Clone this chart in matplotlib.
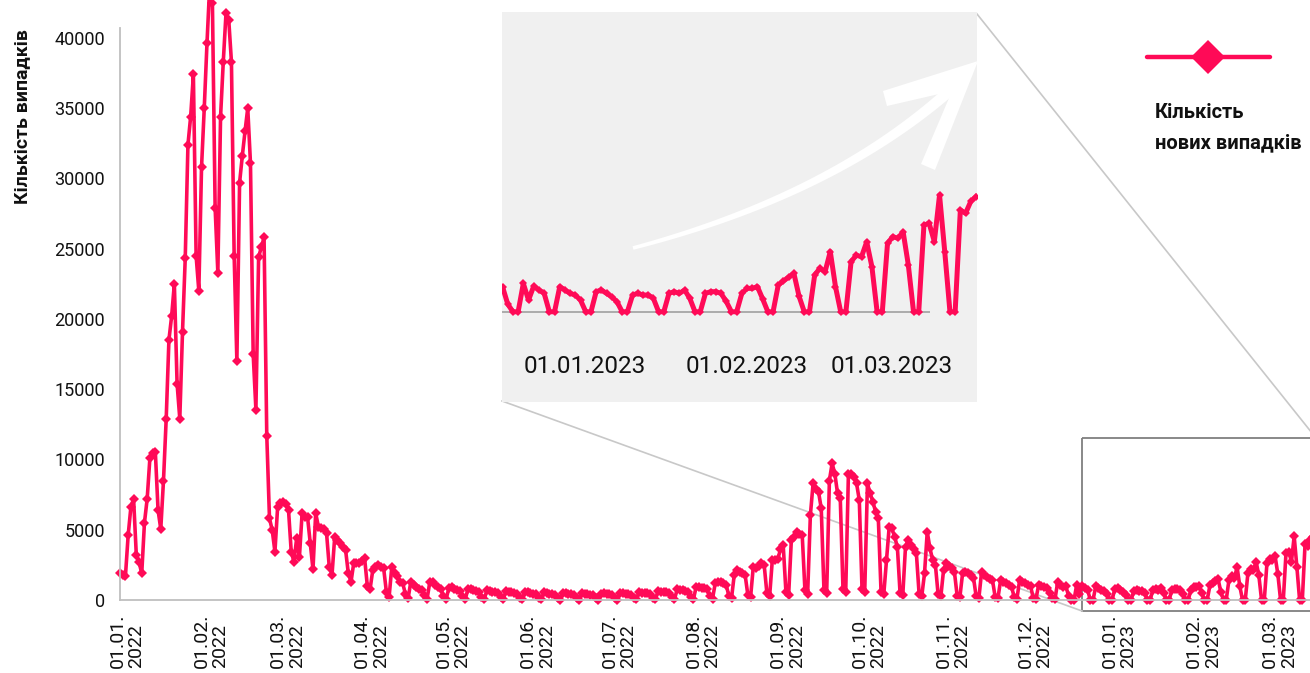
import matplotlib
matplotlib.use('Agg')
import matplotlib.pyplot as plt
import matplotlib.transforms as mtransforms
from matplotlib.patches import Rectangle, Polygon
import numpy as np
import pandas as pd

plt.rcParams['font.family'] = ['Roboto', 'DejaVu Sans']

# daily new cases, one row per week (Sat ... Fri), starting 01.01.2022
cases_q1_2022 = [
    1900, 1800, 1700, 4600, 6600, 7200, 3200,
    2700, 1900, 5500, 7200, 10100, 10450, 10550,
    6400, 5050, 8500, 12900, 18500, 20200, 22500,
    15400, 12900, 19100, 24300, 32400, 34400, 37400,
    24500, 22000, 30800, 35000, 39600, 43700, 42500,
    27900, 23300, 34400, 38300, 41750, 41300, 38300,
    24500, 17000, 29700, 31600, 33350, 35000, 31100,
    17500, 13550, 24400, 25100, 25800, 11700, 5800,
    4980, 3430, 6630, 6900, 7000, 6800, 6400,
    3430, 2720, 4400, 3030, 6160, 5900, 5900,
    4050, 2180, 6180, 5210, 5100, 5030, 4740,
    2350, 1780, 4500, 4300, 4030, 3800, 3550,
    1900, 1300, 2630, 2650, 2610, 2800, 2960,
]
cases_q2_2022 = [
    1000, 760, 2130, 2370, 2490, 2370, 2250,
    600, 200, 2370, 1900, 1700, 1300, 1185,
    450, 120, 1300, 1100, 950, 800, 700,
    350, 100, 1300, 1250, 1050, 900, 800,
    300, 80, 850, 900, 800, 700, 650,
    250, 60, 750, 800, 700, 650, 550,
    200, 50, 700, 650, 600, 550, 500,
    180, 50, 650, 600, 550, 500, 450,
    150, 40, 600, 550, 500, 450, 400,
    150, 40, 550, 500, 450, 420, 380,
    140, 30, 500, 480, 450, 400, 350,
    130, 30, 480, 450, 420, 380, 350,
    120, 30, 460, 470, 430, 400, 360,
]
cases_q3_2022 = [
    130, 30, 500, 480, 450, 420, 380,
    140, 40, 550, 520, 500, 480, 420,
    150, 50, 650, 600, 580, 550, 500,
    180, 60, 750, 700, 680, 650, 600,
    200, 80, 950, 900, 850, 820, 750,
    250, 100, 1185, 1250, 1300, 1200, 1100,
    300, 150, 1800, 2130, 2000, 1900, 1780,
    350, 200, 2370, 2250, 2400, 2600, 2490,
    500, 250, 2840, 2840, 2900, 3600, 3910,
    600, 350, 4270, 4500, 4860, 4700, 4620,
    700, 450, 6040, 8290, 7900, 7700, 6520,
    710, 500, 8500, 9720, 9000, 7580, 7230,
    800, 550, 9000, 9000, 8770, 8290, 7110,
]
cases_q4_2022 = [
    800, 600, 8290, 7580, 6990, 6280, 5800,
    600, 400, 2840, 5210, 5090, 4500, 3800,
    500, 350, 3790, 4270, 3910, 3600, 3320,
    450, 300, 1900, 4860, 3670, 2840, 2490,
    400, 250, 2130, 2600, 2400, 2250, 2000,
    300, 200, 1900, 2010, 1900, 1780, 1600,
    250, 150, 2010, 1800, 1660, 1500, 1420,
    200, 120, 1420, 1300, 1185, 1050, 950,
    200, 100, 1420, 1300, 1185, 1100, 1000,
    150, 80, 1070, 1000, 900, 830, 470,
    150, 50, 1300, 1100, 950, 975, 300,
    0, 0, 1100, 455, 1000, 845, 720,
    0, 0, 975, 845, 715, 650, 450,
]
cases_2023 = [
    0, 0, 780, 845, 715, 585, 390,
    0, 0, 650, 715, 650, 650, 520,
    0, 0, 715, 780, 715, 845, 520,
    0, 0, 715, 780, 780, 715, 400,
    0, 0, 715, 910, 910, 975, 500,
    0, 0, 1040, 1200, 1350, 1495, 600,
    0, 0, 1430, 1690, 1560, 2340, 975,
    0, 0, 1950, 2200, 2140, 2720, 1750,
    0, 0, 2660, 2920, 2860, 3110, 1820,
    0, 0, 3370, 3440, 2730, 4540, 2340,
    0, 0, 3960, 3830, 4290, 4480,
]

new_cases = cases_q1_2022 + cases_q2_2022 + cases_q3_2022 + cases_q4_2022 + cases_2023
start = pd.Timestamp('2022-01-01')
days = np.arange(len(new_cases))

month_starts = pd.date_range('2022-01-01', '2023-03-01', freq='MS')
tick_days = (month_starts - start).days
tick_labels = [d.strftime('%d.%m.\n%Y') for d in month_starts]
y_ticks = list(range(0, 40001, 5000))
inset_months = pd.to_datetime(['2023-01-01', '2023-02-01', '2023-03-01'])

PINK = '#FF0A57'
W, H = 1310, 673


def fx(px):
    return px / W


def fy(py):
    return 1 - py / H


fig = plt.figure(figsize=(W / 100, H / 100), dpi=100)

# layer under the chart: zoom frame and connector lines (pixel coords)
under = fig.add_axes([0, 0, 1, 1], zorder=0)
under.set_xlim(0, W)
under.set_ylim(H, 0)
under.axis('off')
under.add_patch(Rectangle((1082, 438), 260, 173, fill=False, edgecolor='#7F7F7F', lw=1.3))
under.plot([502, 1082], [401, 611], color='#C8C8C8', lw=1.2)
under.plot([977, 1316], [14, 438], color='#C8C8C8', lw=1.2)

# main chart
ax = fig.add_axes([fx(120), fy(600), fx(1310) - fx(120), fy(28) - fy(600)], zorder=1)
ax.patch.set_alpha(0)
ax.plot(days, new_cases, color=PINK, lw=2.6, marker='D', ms=4.8, mew=0, clip_on=False)
ax.set_xlim(0, (1310 - 120) / 2.718)
ax.set_ylim(0, 40700)
ax.set_yticks(y_ticks)
ax.set_yticklabels([str(v) for v in y_ticks], fontsize=13, color='#111111')
ax.set_xticks(tick_days)
ax.set_xticklabels(tick_labels, rotation=90, ha='center', va='top', multialignment='left',
                   fontsize=14, color='#111111', linespacing=1.05)
ax.tick_params(axis='both', length=0)
ax.tick_params(axis='y', pad=11)
ax.tick_params(axis='x', pad=10)
shift = mtransforms.ScaledTranslation(0.07, 0, fig.dpi_scale_trans)
for lab in ax.get_xticklabels():
    lab.set_transform(lab.get_transform() + shift)
for side in ['top', 'right']:
    ax.spines[side].set_visible(False)
for side in ['left', 'bottom']:
    ax.spines[side].set_color('#BFBFBF')
    ax.spines[side].set_linewidth(1.3)

fig.text(fx(22), fy(117), 'Кількість випадків', rotation=90, ha='center', va='center',
         fontsize=14, fontweight='bold', color='#111111')

# zoomed inset
ax_in = fig.add_axes([fx(502), fy(402), fx(977) - fx(502), fy(12) - fy(402)], zorder=2)
ax_in.set_facecolor('#F0F0F0')
ax_in.set_xlim(347.9, 439.2)
ax_in.set_ylim(-3510, 11660)
ax_in.hlines(0, 347.9, 430.2, color='#A6A6A6', lw=1.3, zorder=1)
ax_in.plot(days, new_cases, color=PINK, lw=3.6, marker='D', ms=4.5, mew=0, zorder=2)
ax_in.set_xticks([])
ax_in.set_yticks([])
for sp in ax_in.spines.values():
    sp.set_visible(False)
blend = mtransforms.blended_transform_factory(ax_in.transData, ax_in.transAxes)
lab_shift = mtransforms.ScaledTranslation(-0.06, 0, fig.dpi_scale_trans)
for m in inset_months:
    ax_in.text((m - start).days, 0.09, m.strftime('%d.%m.%Y'), transform=blend + lab_shift,
               ha='center', va='center', fontsize=17.5, color='#111111')

# overlay: white arrow and legend (pixel coords)
over = fig.add_axes([0, 0, 1, 1], zorder=3)
over.set_xlim(0, W)
over.set_ylim(H, 0)
over.axis('off')

t = np.linspace(0, 1, 60)[:, None]
p0, p1, p2 = np.array([633, 248]), np.array([835, 195]), np.array([955, 86])
curve = (1 - t) ** 2 * p0 + 2 * (1 - t) * t * p1 + t ** 2 * p2
tang = 2 * (1 - t) * (p1 - p0) + 2 * t * (p2 - p1)
norm = np.c_[-tang[:, 1], tang[:, 0]] / np.hypot(tang[:, 0], tang[:, 1])[:, None]
half = (1.8 + 3.8 * t)
shaft = np.vstack([curve + norm * half, (curve - norm * half)[::-1]])
over.add_patch(Polygon(shaft, closed=True, color='white', lw=0))
over.add_patch(Polygon([(883, 91), (978, 61), (952, 91), (887, 106)], closed=True, color='white', lw=0))
over.add_patch(Polygon([(978, 61), (935, 170), (921, 164), (955, 84)], closed=True, color='white', lw=0))

# legend
over.plot([1147, 1270], [57, 57], color=PINK, lw=3.2, solid_capstyle='round')
over.plot([1208], [57], marker='D', ms=17, mew=0, color=PINK)
over.text(1155, 118, 'Кількість', fontsize=14.5, fontweight='bold', color='#111111', va='baseline')
over.text(1155, 148, 'нових випадків', fontsize=14.5, fontweight='bold', color='#111111', va='baseline')

fig.savefig('out.png', dpi=100)
